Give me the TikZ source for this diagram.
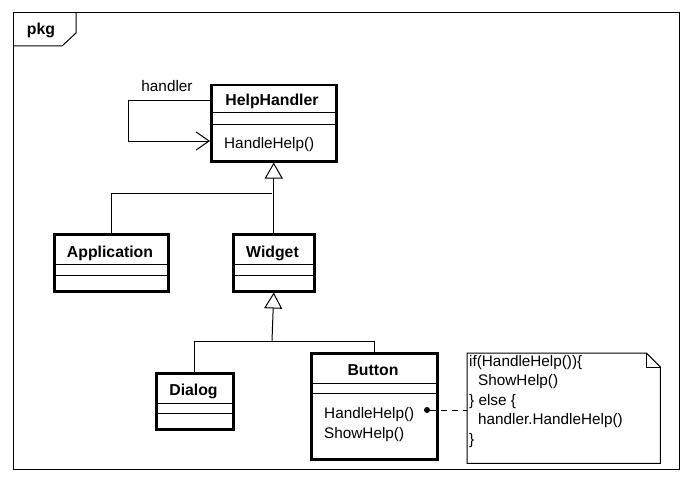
\documentclass[tikz,border=0pt]{standalone}
\usepackage{fontspec}
\setmainfont{Liberation Sans}
\usetikzlibrary{arrows.meta,calc}
\begin{document}
\begin{tikzpicture}[x=1pt,y=-1pt,
  cls/.style={draw, line width=2.5pt, anchor=north west, inner sep=0},
  thin/.style={line width=1pt},
  gen/.style={thin, -{Triangle[open,length=16pt,width=18pt]}},
  assoc/.style={thin, -{Straight Barb[length=13pt,width=18pt]}},
  txt/.style={font=\fontsize{15.3}{19.6}\selectfont, inner sep=0, anchor=base west},
  bold/.style={font=\fontsize{15.8}{19.6}\selectfont\bfseries, inner sep=0, anchor=base}]
\useasboundingbox[fill=white] (0,0) rectangle (693,484);
% frame
\draw[thin] (13,13) rectangle (679,469);
\draw[thin] (13,46) -- (62,46) -- (76,33) -- (76,13);
\node[bold] (pkg) at (41,35) {pkg};
% HelpHandler
\node[cls, minimum width=125pt, minimum height=76pt] (hh) at (210,84) {};
\draw[thin] ($(hh.north west)+(0,29)$) -- ($(hh.north east)+(0,29)$);
\draw[thin] ($(hh.north west)+(0,41)$) -- ($(hh.north east)+(0,41)$);
\node[bold] (hht) at (272,106) {HelpHandler};
\node[txt] (hhm) at (224,148) {HandleHelp()};
% self association
\draw[assoc] ($(hh.north west)+(0,17)$) -- (128,101) -- (128,141) -- ($(hh.north west)+(0,57)$);
\node[txt, anchor=base] (hl) at (167,92) {handler};
% Application
\node[cls, minimum width=114pt, minimum height=57pt] (app) at (53,233) {};
\draw[thin] ($(app.north west)+(0,31)$) -- ($(app.north east)+(0,31)$);
\draw[thin] ($(app.north west)+(0,42)$) -- ($(app.north east)+(0,42)$);
\node[bold] (appt) at (110,257) {Application};
% Widget
\node[cls, minimum width=81pt, minimum height=57pt] (wid) at (232,233) {};
\draw[thin] ($(wid.north west)+(0,31)$) -- ($(wid.north east)+(0,31)$);
\draw[thin] ($(wid.north west)+(0,42)$) -- ($(wid.north east)+(0,42)$);
\node[bold] (widt) at (272.5,257) {Widget};
% Dialog
\node[cls, minimum width=77pt, minimum height=56pt] (dlg) at (155,372) {};
\draw[thin] ($(dlg.north west)+(0,31)$) -- ($(dlg.north east)+(0,31)$);
\draw[thin] ($(dlg.north west)+(0,41)$) -- ($(dlg.north east)+(0,41)$);
\node[bold] (dlgt) at (193.5,395) {Dialog};
% Button
\node[cls, minimum width=126pt, minimum height=106pt] (btn) at (310,352) {};
\draw[thin] ($(btn.north west)+(0,31)$) -- ($(btn.north east)+(0,31)$);
\draw[thin] ($(btn.north west)+(0,41)$) -- ($(btn.north east)+(0,41)$);
\node[bold] (btnt) at (373,375) {Button};
\node[txt] (btnm1) at (324,418) {HandleHelp()};
\node[txt] (btnm2) at (324,438) {ShowHelp()};
% generalizations
\coordinate (j1) at (272,193);
\draw[thin] (app.north) |- (j1);
\draw[gen] (wid.north) -- (hh.south);
\coordinate (j2) at (272,341);
\draw[thin] (dlg.north) |- (btn.north |- j2) -- (btn.north);
\draw[gen] (j2) -- (wid.south);
% note
\node[anchor=north west, minimum width=193pt, minimum height=110pt, inner sep=0] (note) at (467,353) {};
\draw[thin] (note.north west) -- ($(note.north east)+(-14,0)$) -- ($(note.north east)+(0,14)$) -- (note.south east) -- (note.south west) -- cycle;
\draw[thin] ($(note.north east)+(-14,0)$) -- ($(note.north east)+(-14,14)$) -- ($(note.north east)+(0,14)$);
\node[txt, align=left] (notet) at (469,444.5) {if(HandleHelp())\{\\\hspace*{9pt}ShowHelp()\\\} else \{\\\hspace*{9pt}handler.HandleHelp()\\\}};
% anchor link
\node[circle, fill, inner sep=0, minimum size=6pt] (dot) at (427,410) {};
\draw[thin, dash pattern=on 6pt off 5pt] (dot) -- (note.west |- dot);
\end{tikzpicture}
\end{document}
